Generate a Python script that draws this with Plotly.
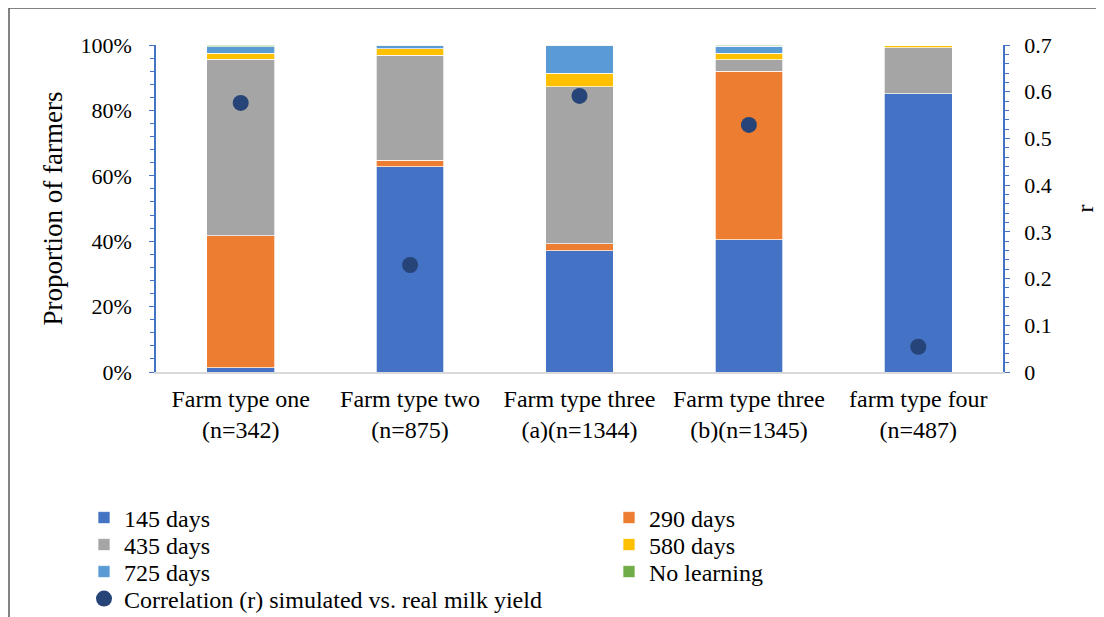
import plotly.graph_objects as go

categories = ["Farm type one<br>(n=342)", "Farm type two<br>(n=875)", "Farm type three<br>(a)(n=1344)",
              "Farm type three<br>(b)(n=1345)", "farm type four<br>(n=487)"]
d145 = [1.3, 62.7, 37.1, 40.5, 85.1]
d290 = [40.4, 2.1, 2.1, 51.5, 0.0]
d435 = [54.0, 32.0, 48.0, 3.5, 14.1]
d580 = [1.8, 2.0, 4.2, 2.0, 0.6]
d725 = [2.0, 1.0, 8.3, 2.1, 0.2]
no_learning = [0.5, 0.2, 0.3, 0.4, 0.0]
corr_r = [0.576, 0.229, 0.591, 0.529, 0.054]

# figure geometry (page has an 8px body margin)
W, H = 1096, 609
ML, MR, MT, MB = 148, 101, 37, 245
PW, PH = W - ML - MR, H - MT - MB


def px_x(sx):  # screen x -> paper x
    return (sx - 8 - ML) / PW


def px_y(sy):  # screen y -> paper y
    return (H - MB - (sy - 8)) / PH


# legend slots: (column text-start x, row center y) in screen pixels
col_x = [84, 609]
row_y = [518, 545, 572, 599]

series = [
    ("145 days", d145, "#4472C4", (0, 0)),
    ("290 days", d290, "#ED7D31", (1, 0)),
    ("435 days", d435, "#A5A5A5", (0, 1)),
    ("580 days", d580, "#FFC000", (1, 1)),
    ("725 days", d725, "#5B9BD5", (0, 2)),
    ("No learning", no_learning, "#70AD47", (1, 2)),
]

font = dict(family="Liberation Serif", size=22, color="black")
lfont = dict(family="Liberation Serif", size=24, color="black")
blue = "#4472C4"

fig = go.Figure()
legends = {}
for i, (name, vals, col, (c, r)) in enumerate(series):
    lname = "legend" if i == 0 else f"legend{i + 1}"
    fig.add_trace(go.Bar(x=categories, y=vals, name=name, marker_color=col,
                         marker_line=dict(color="white", width=0.7), legend=lname))
    legends[lname] = dict(x=px_x(col_x[c]), y=px_y(row_y[r]), xanchor="left", yanchor="middle",
                          font=lfont, bgcolor="rgba(0,0,0,0)", itemwidth=30)
fig.add_trace(go.Scatter(x=categories, y=corr_r, mode="markers", yaxis="y2",
                         name="Correlation (r) simulated vs. real milk yield",
                         marker=dict(color="#264478", size=16), legend="legend7"))
legends["legend7"] = dict(x=px_x(col_x[0]), y=px_y(row_y[3]), xanchor="left", yanchor="middle",
                          font=lfont, bgcolor="rgba(0,0,0,0)", itemwidth=30)

fig.update_layout(
    width=W, height=H,
    margin=dict(l=ML, r=MR, t=MT, b=MB, autoexpand=False),
    paper_bgcolor="white", plot_bgcolor="white",
    font=font,
    barmode="stack", bargap=0.6,
    showlegend=True,
    xaxis=dict(showline=True, linecolor="#D9D9D9", linewidth=1.5, ticks="",
               tickfont=dict(family="Liberation Serif", size=24, color="black"),
               ticklabelstandoff=4),
    yaxis=dict(range=[0, 100], tickvals=[0, 20, 40, 60, 80, 100],
               ticktext=["0%", "20%", "40%", "60%", "80%", "100%"],
               showline=True, linecolor=blue, linewidth=1.5, ticks="outside", ticklen=5,
               tickcolor=blue, showgrid=False, zeroline=False, tickfont=font,
               ticklabelstandoff=13,
               minor=dict(dtick=4, ticks="outside", ticklen=4, tickcolor=blue),
               title=dict(text="Proportion of farmers",
                          font=dict(family="Liberation Serif", size=27, color="black"),
                          standoff=10)),
    yaxis2=dict(range=[0, 0.7], overlaying="y", side="right",
                showline=True, linecolor=blue, linewidth=1.5, ticks="outside", ticklen=5,
                tickcolor=blue, showgrid=False, zeroline=False, tickfont=font,
                ticklabelstandoff=10,
                tickvals=[0, 0.1, 0.2, 0.3, 0.4, 0.5, 0.6, 0.7],
                ticktext=["0", "0.1", "0.2", "0.3", "0.4", "0.5", "0.6", "0.7"],
                minor=dict(dtick=0.02, ticks="outside", ticklen=4, tickcolor=blue),
                title=dict(text="r", font=dict(family="Liberation Serif", size=24, color="black"),
                           standoff=26)),
    shapes=[dict(type="rect", xref="paper", yref="paper", x0=px_x(9), x1=px_x(1200),
                 y0=px_y(700), y1=px_y(8), line=dict(color="#595959", width=1.5), layer="below")],
    **legends,
)

fig.write_html("out.html")
